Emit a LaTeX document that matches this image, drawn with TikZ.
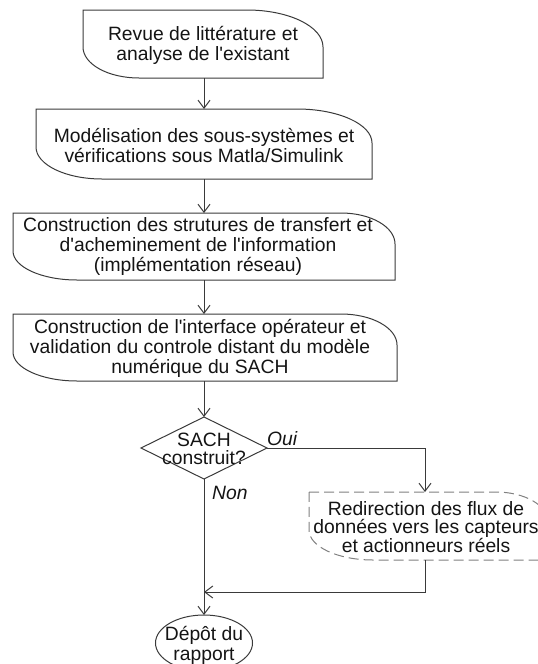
\documentclass[tikz,border=0pt]{standalone}
\usepackage{fontspec}
\setmainfont{Liberation Sans}[Ligatures=TeXOff]
\usetikzlibrary{arrows.meta,calc,shapes.geometric}

\definecolor{linegray}{HTML}{3A3A3A}
\definecolor{dashgray}{HTML}{808080}
\definecolor{inkblack}{HTML}{141414}

% Outline of a process box: square top-left and bottom-right corners,
% elliptical top-right and bottom-left corners.
% #1 = draw options, #2 = node name,
% #3/#4 = radii of the top-right corner, #5/#6 = radii of the bottom-left corner
\newcommand\leafoutline[6][]{%
  \draw[#1] (#2.north west) -- ($(#2.north east)+(-#3,0)$)
    .. controls ($(#2.north east)+(-0.4477*#3,0)$) and ($(#2.north east)+(0,0.4477*#4)$)
    .. ($(#2.north east)+(0,#4)$)
    -- (#2.south east) -- ($(#2.south west)+(#5,0)$)
    .. controls ($(#2.south west)+(0.4477*#5,0)$) and ($(#2.south west)+(0,-0.4477*#6)$)
    .. ($(#2.south west)+(0,-#6)$)
    -- cycle;}

\begin{document}
\begin{tikzpicture}[x=1pt,y=-1pt,
  flowline/.style={draw=linegray, line width=1pt},
  arr/.style={flowline, -{Straight Barb[length=8pt,width=12pt]}},
  txt/.style={font=\fontsize{19.3}{20}\selectfont, text=inkblack, align=center, inner sep=0pt},
  tighttxt/.style={font=\fontsize{19.3}{18.5}\selectfont, text=inkblack, align=center, inner sep=0pt},
  lbl/.style={font=\fontsize{19.3}{20}\selectfont\itshape, text=inkblack, inner sep=0pt},
  frame/.style={inner sep=0pt, outer sep=0pt}]

\useasboundingbox (0,0) rectangle (538,664);

% process steps (outlines first, texts on top)
\node[frame, minimum width=240, minimum height=68] (b1) at (203,44) {};
\node[frame, minimum width=336, minimum height=70] (b2) at (204,144) {};
\node[frame, minimum width=382, minimum height=67] (b3) at (204,246.5) {};
\node[frame, minimum width=384, minimum height=67] (b4) at (205,347.5) {};

\leafoutline[flowline]{b1}{76}{37}{56}{31}
\leafoutline[flowline]{b2}{75}{34}{66}{32}
\leafoutline[flowline]{b3}{54}{31}{64}{29}
\leafoutline[flowline]{b4}{56}{31}{64}{29}

\node[txt] (t1) at (203,45) {Revue de littérature et\\analyse de l'existant};
\node[txt] (t2) at (204,145) {Modélisation des sous-systèmes et\\vérifications sous Matla/Simulink};
\node[txt] (t3) at (198,247)
  {Construction des strutures de transfert et\\d'acheminement de l'information\\(implémentation réseau)};
\node[txt] (t4) at (200,348)
  {Construction de l'interface opérateur et\\validation du controle distant du modèle\\numérique du SACH};

% decision
\node[diamond, flowline, frame, minimum width=126, minimum height=62] (d) at (204,448) {};
\node[tighttxt] (dtext) at (204,449) {SACH\\construit?};

% alternative branch
\node[frame, minimum width=239, minimum height=68] (r) at (428.5,526) {};
\leafoutline[draw=dashgray, line width=1pt, dash pattern=on 10pt off 5pt]{r}{52}{30}{64}{30}
\node[tighttxt] (rtext) at (426,527)
  {Redirection des flux de\\données vers les capteurs\\et actionneurs réels};

% terminator
\node[ellipse, flowline, frame, minimum width=97, minimum height=56] (t) at (204,643) {};
\node[txt] (ttext) at (204,645) {Dépôt du\\rapport};

\coordinate (j) at (204,592);

% connectors
\draw[arr] (b1.south -| d.north) -- (b2.north -| d.north);
\draw[arr] (b2.south -| d.north) -- (b3.north -| d.north);
\draw[arr] (b3.south -| d.north) -- (b4.north -| d.north);
\draw[arr] (b4.south -| d.north) -- (d.north);
\draw[arr] (d.east) -| ([xshift=-3.5pt]r.north);
\draw[arr] (d.south) -- (t.north);
\draw[arr] ([xshift=-3.5pt]r.south) |- (j);

% branch labels
\node[lbl, anchor=base west] (oui) at (267,445) {Oui};
\node[lbl, anchor=base west] (non) at (212,499) {Non};
\end{tikzpicture}
\end{document}
